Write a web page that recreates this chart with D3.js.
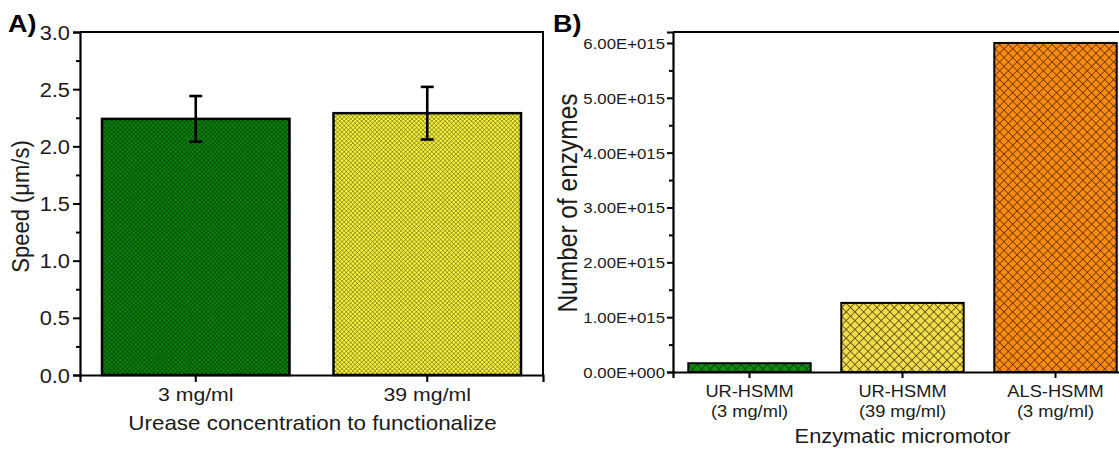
<!DOCTYPE html>
<html><head><meta charset="utf-8">
<script src="https://cdn.jsdelivr.net/npm/d3@7"></script>
<style>body{margin:0;background:#fff;overflow:hidden}svg{display:block}text{font-family:"Liberation Sans",Arial,sans-serif;fill:#1a1a1a}</style>
</head><body>
<svg id="c" width="1119" height="450"></svg>
<script>
// Panel A data
const catsA = ["3 mg/ml", "39 mg/ml"];
const speedA = [2.24, 2.29];
const errA = [0.20, 0.23];
const colorsA = ["#0b800b", "#f6f23a"];
const ticksA = [0, 0.5, 1.0, 1.5, 2.0, 2.5, 3.0];
// Panel B data
const catsB = [["UR-HSMM", "(3 mg/ml)"], ["UR-HSMM", "(39 mg/ml)"], ["ALS-HSMM", "(3 mg/ml)"]];
const enzymesB = [0.16e15, 1.26e15, 6.0e15];
const colorsB = ["#138a13", "#f2dc48", "#ff8a10"];
const ticksB = [0, 1e15, 2e15, 3e15, 4e15, 5e15, 6e15];

const SX = 1.12; // horizontal stretch of the original figure's lettering
const svg = d3.select("#c");
const defs = svg.append("defs");
function hatch(id, base, line, s, w) {
  const p = defs.append("pattern").attr("id", id).attr("patternUnits", "userSpaceOnUse")
    .attr("width", s).attr("height", s).attr("patternTransform", "rotate(45)");
  p.append("rect").attr("width", s).attr("height", s).attr("fill", base);
  p.append("line").attr("x1", 0).attr("y1", 0).attr("x2", s).attr("y2", 0).attr("stroke", line).attr("stroke-width", w);
  p.append("line").attr("x1", 0).attr("y1", 0).attr("x2", 0).attr("y2", s).attr("stroke", line).attr("stroke-width", w);
}
hatch("hA0", colorsA[0], "#063e06", 3.1, 1.1);
hatch("hA1", colorsA[1], "#6a661c", 3.1, 1.0);
hatch("hB0", colorsB[0], "#063806", 6.2, 1.4);
hatch("hB1", colorsB[1], "#3d3515", 6.2, 1.4);
hatch("hB2", colorsB[2], "#4a2a05", 6.2, 1.4);

function label(parent, x, y, str, size, opts = {}) {
  const g = parent.append("g").attr("transform", `translate(${x},${y})` + (opts.rot ? " rotate(-90)" : "") + (opts.rot ? ` scale(1,${SX})` : ` scale(${SX},1)`));
  const t = g.append("text").attr("text-anchor", opts.anchor || "middle").style("font-size", size + "px").text(str);
  if (opts.bold) t.style("font-weight", "bold").style("fill", "#000");
  return t;
}
function stretchTicks(sel) {
  sel.selectAll(".tick text").each(function () {
    const t = d3.select(this);
    const x = +t.attr("x") || 0;
    t.attr("x", x / SX).attr("transform", `scale(${SX},1)`);
  });
}

// ---------- Panel A ----------
const A = {l: 80, r: 543, t: 32, b: 375};
const xA = d3.scaleBand().domain(catsA).range([A.l, A.r]).paddingInner(0.19).paddingOuter(0.095);
const yA = d3.scaleLinear().domain([0, 3]).range([A.b, A.t]);
const gA = svg.append("g");
gA.selectAll("rect.bar").data(catsA).join("rect").attr("class", "bar")
  .attr("x", d => xA(d)).attr("width", xA.bandwidth())
  .attr("y", (d, i) => yA(speedA[i])).attr("height", (d, i) => yA(0) - yA(speedA[i]))
  .attr("fill", (d, i) => `url(#hA${i})`).attr("stroke", "#000").attr("stroke-width", 2.5);
catsA.forEach((c, i) => {
  const cx = xA(c) + xA.bandwidth() / 2;
  const g = gA.append("g").attr("stroke", "#000").attr("stroke-width", 2.6);
  g.append("line").attr("x1", cx).attr("x2", cx).attr("y1", yA(speedA[i] + errA[i])).attr("y2", yA(speedA[i] - errA[i]));
  [speedA[i] + errA[i], speedA[i] - errA[i]].forEach(v =>
    g.append("line").attr("x1", cx - 6.5).attr("x2", cx + 6.5).attr("y1", yA(v)).attr("y2", yA(v)));
});
gA.append("path").attr("d", `M${A.l},${A.t}H${A.r}V${A.b}`).attr("fill", "none").attr("stroke", "#000").attr("stroke-width", 2);
const yAxA = gA.append("g").attr("transform", `translate(${A.l},0)`)
  .call(d3.axisLeft(yA).tickValues(ticksA).tickFormat(d3.format(".1f")).tickSize(7).tickPadding(3));
yAxA.selectAll("text").style("font-size", "19.5px").attr("dy", "0.36em");
stretchTicks(yAxA);
gA.append("g").attr("transform", `translate(${A.l},0)`)
  .call(d3.axisLeft(yA).tickValues(d3.range(0.25, 3, 0.5)).tickFormat("").tickSize(4))
  .select(".domain").remove();
const xAxA = gA.append("g").attr("transform", `translate(0,${A.b})`)
  .call(d3.axisBottom(xA).tickSize(7).tickPadding(6));
xAxA.selectAll("text").style("font-size", "19px");
stretchTicks(xAxA);
gA.selectAll(".domain").attr("stroke-width", 2.2);
gA.selectAll(".tick line").attr("stroke-width", 2);
label(gA, (A.l + A.r) / 2 + 1, 430, "Urease concentration to functionalize", 20);
label(gA, 29, (A.t + A.b) / 2 + 3, "Speed (μm/s)", 22, {rot: true});
label(svg, 8, 32, "A)", 24, {anchor: "start", bold: true});

// ---------- Panel B ----------
const B = {l: 673, r: 1132, t: 32, b: 372};
const xB = d3.scaleBand().domain(d3.range(catsB.length)).range([B.l, B.r]).paddingInner(0.2).paddingOuter(0.1);
const yB = d3.scaleLinear().domain([0, 6.2e15]).range([B.b, B.t]);
const gB = svg.append("g");
gB.selectAll("rect.bar").data(enzymesB).join("rect").attr("class", "bar")
  .attr("x", (d, i) => xB(i)).attr("width", xB.bandwidth())
  .attr("y", d => yB(d)).attr("height", d => yB(0) - yB(d))
  .attr("fill", (d, i) => `url(#hB${i})`).attr("stroke", "#000").attr("stroke-width", 2);
gB.append("path").attr("d", `M${B.l},${B.t}H${B.r}V${B.b}`).attr("fill", "none").attr("stroke", "#000").attr("stroke-width", 2);
const fmtE = d => { if (d === 0) return "0.00E+000"; const e = Math.floor(Math.log10(d)); return (d / Math.pow(10, e)).toFixed(2) + "E+" + String(e).padStart(3, "0"); };
const yAxB = gB.append("g").attr("transform", `translate(${B.l},0)`)
  .call(d3.axisLeft(yB).tickValues(ticksB).tickFormat(fmtE).tickSize(6).tickPadding(2));
yAxB.selectAll("text").style("font-size", "15px").attr("dy", "0.36em");
stretchTicks(yAxB);
gB.append("g").attr("transform", `translate(${B.l},0)`)
  .call(d3.axisLeft(yB).tickValues(d3.range(0.5e15, 6.2e15, 1e15)).tickFormat("").tickSize(4))
  .select(".domain").remove();
const xAxB = gB.append("g").attr("transform", `translate(0,${B.b})`)
  .call(d3.axisBottom(xB).tickSize(6).tickFormat(""));
xAxB.selectAll(".tick").each(function (d) {
  const t = d3.select(this);
  catsB[d].forEach((s, j) => t.append("text").attr("y", 25 + j * 20).attr("text-anchor", "middle")
    .attr("transform", `scale(${SX},1)`).style("font-size", "16.3px").text(s));
});
gB.selectAll(".domain").attr("stroke-width", 2.2);
gB.selectAll(".tick line").attr("stroke-width", 2);
label(gB, xB(1) + xB.bandwidth() / 2, 443, "Enzymatic micromotor", 19.5);
label(gB, 577, 203, "Number of enzymes", 24.5, {rot: true});
label(svg, 553, 32, "B)", 24, {anchor: "start", bold: true});
</script>
</body></html>
